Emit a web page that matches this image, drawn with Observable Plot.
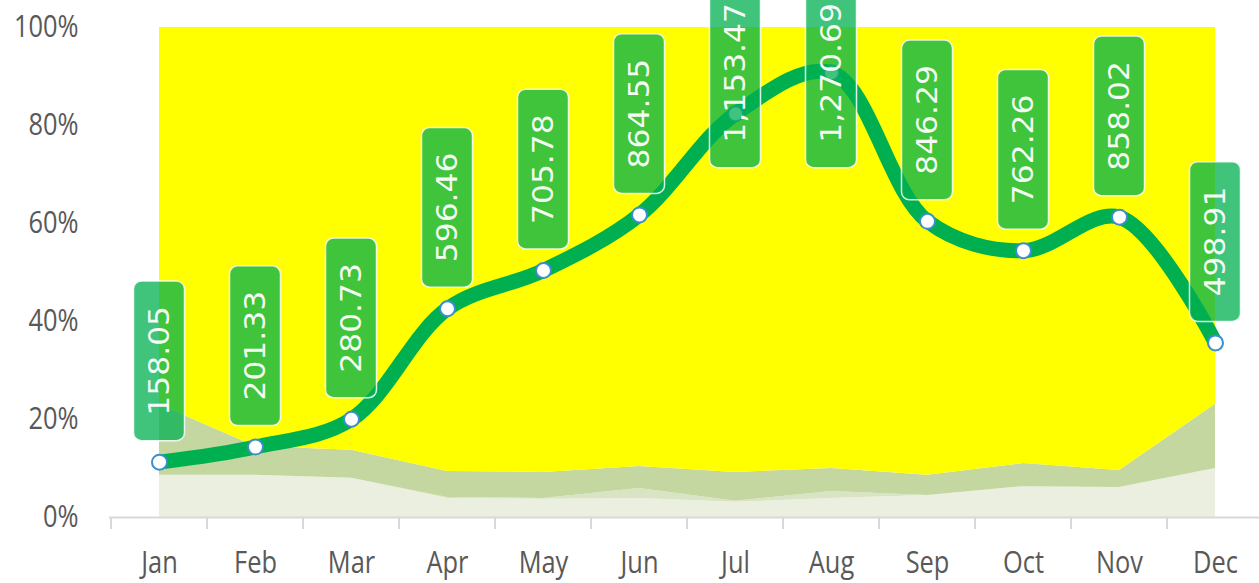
<!DOCTYPE html>
<html><head><meta charset="utf-8">
<script src="https://cdn.jsdelivr.net/npm/d3@7"></script>
<script src="https://cdn.jsdelivr.net/npm/@observablehq/plot@0.6"></script>
<style>html,body{margin:0;padding:0;background:#fff;overflow:hidden}</style>
</head><body><div id="chart"></div>
<script>
const months = ["Jan","Feb","Mar","Apr","May","Jun","Jul","Aug","Sep","Oct","Nov","Dec"];
const totals = [158.05,201.33,280.73,596.46,705.78,864.55,1153.47,1270.69,846.29,762.26,858.02,498.91];
const secondaryMax = 1400;
const baseShare = [8.6,8.6,8.0,3.9,3.7,3.9,3.1,3.9,4.5,6.3,6.1,10.0];
const midShare  = [0,0,0,0.2,0.2,2.0,0.2,1.4,0,0,0,0];
const bandShare = [14.4,5.9,5.7,5.3,5.3,4.5,5.9,4.7,4.1,4.7,3.5,13.1];
const restShare = [77.0,85.5,86.3,90.6,90.8,89.6,90.8,90.0,91.4,89.0,90.4,76.9];
const yTicks = [0,0.2,0.4,0.6,0.8,1];
const seriesNames = ["base","mid","band","rest"];
const seriesColors = ["#ebefdf","#d8e4c3","#c5d7a0","#ffff00"];

const shares = [baseShare, midShare, bandShare, restShare];
const areaData = seriesNames.flatMap((s,i)=> months.map((m,j)=>({month:m, series:s, share:shares[i][j]})));
const lineData = months.map((m,i)=>({month:m, total:totals[i], frac:totals[i]/secondaryMax}));

const fmt = d3.format(",.2f");
const ctx = document.createElement("canvas").getContext("2d");
ctx.font = "28px 'DejaVu Sans'";

function boundaryTicks(index, scales, values, dims) {
  const g = d3.create("svg:g");
  const step = scales.x(months[1]) - scales.x(months[0]);
  const y0 = scales.y(0);
  months.forEach(m => {
    const x = scales.x(m) - step/2;
    g.append("line").attr("x1",x).attr("x2",x).attr("y1",y0).attr("y2",y0+12)
      .attr("stroke","#d9d9d9").attr("stroke-width",2);
  });
  return g.node();
}

function labelMark(index, scales, values, dims) {
  const g = d3.create("svg:g");
  lineData.forEach(d => {
    const cx = scales.x(d.month), py = scales.y(d.frac);
    const txt = fmt(d.total);
    const len = ctx.measureText(txt).width * 1.12;
    const h = len + 50, w = 51;
    let cy = py - 21 - h/2;
    const minTop = dims.marginTop - 49;
    cy = Math.max(cy, minTop + h/2);
    g.append("rect").attr("x", cx - w/2).attr("y", cy - h/2).attr("width", w).attr("height", h)
      .attr("rx", 8).attr("fill", "#00b050").attr("fill-opacity", 0.75)
      .attr("stroke", "#fff").attr("stroke-opacity", 0.85).attr("stroke-width", 1.5);
    g.append("text").attr("transform", `translate(${cx},${cy}) rotate(-90) scale(1.12,1)`)
      .attr("text-anchor","middle").attr("dy","0.36em").attr("fill","white").attr("fill-opacity",0.95)
      .attr("font-family","'DejaVu Sans'").attr("font-size",28).text(txt);
  });
  return g.node();
}

const svgEl = Plot.plot({
  width: 1266, height: 583,
  marginLeft: 109, marginRight: 1, marginTop: 27, marginBottom: 66,
  style: {fontFamily:"'Open Sans', sans-serif", fontSize:"31px", color:"#595959", background:"transparent", overflow:"visible", maxWidth:"none"},
  x: {type:"point", domain: months, padding:0.5, tickSize:0, tickPadding:33, label:null},
  y: {domain:[0,1], ticks:yTicks, tickFormat:d3.format(".0%"), tickSize:0, tickPadding:31, label:null},
  color: {domain: seriesNames, range: seriesColors},
  marks: [
    Plot.areaY(areaData, {x:"month", y:"share", fill:"series", z:"series", order:seriesNames, offset:"normalize"}),
    Plot.ruleY([0], {stroke:"#d9d9d9", strokeWidth:2}),
    boundaryTicks,
    Plot.line(lineData, {x:"month", y:"frac", curve:"catmull-rom", stroke:"#ffffff", strokeWidth:36, strokeOpacity:1, ariaLabel:"glow"}),
    Plot.line(lineData, {x:"month", y:"frac", curve:"catmull-rom", stroke:"#00b050", strokeWidth:15}),
    Plot.dot(lineData, {x:"month", y:"frac", r:7.5, fill:"white", stroke:"#3b8ed0", strokeWidth:2}),
    labelMark
  ]
});

const svg = d3.select(svgEl);
svg.style("max-width","none").style("width","1266px").style("height","583px");
svg.insert("defs", ":first-child").html('<filter id="glowBlur" filterUnits="userSpaceOnUse" x="0" y="-100" width="1300" height="800"><feGaussianBlur stdDeviation="6"/></filter>');
svg.select('g[aria-label="glow"]').attr("filter","url(#glowBlur)");
svg.selectAll('g[aria-label$="tick label"] text, g[aria-label="x-axis"] text, g[aria-label="y-axis"] text').each(function(){
  const t = d3.select(this);
  const x = parseFloat(t.attr("x")) || 0;
  const tr = t.attr("transform") || "";
  t.attr("transform", `${tr} translate(${x},0) scale(0.82,1) translate(${-x},0)`);
});
document.getElementById("chart").appendChild(svgEl);
</script>
</body></html>
